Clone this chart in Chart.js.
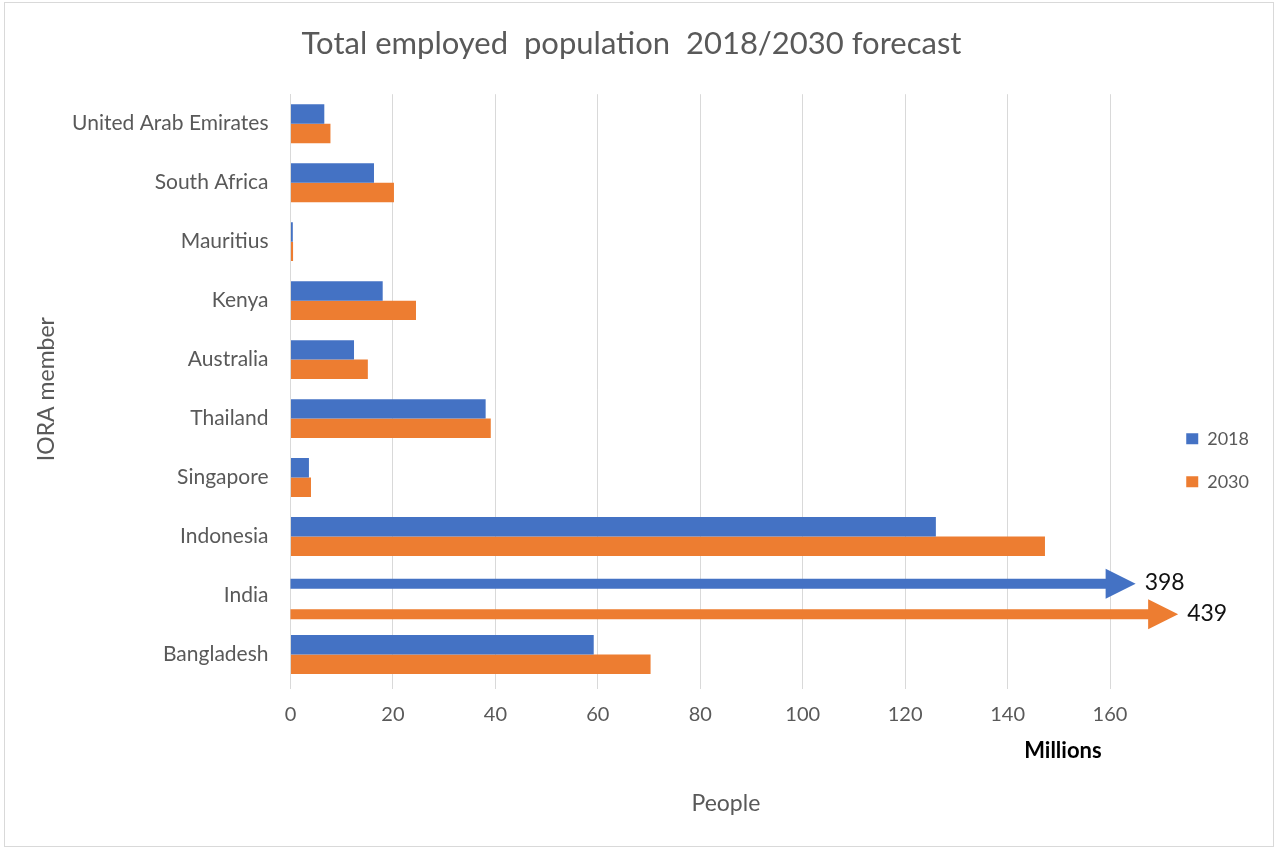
<!DOCTYPE html>
<html>
<head>
<meta charset="utf-8">
<script src="https://cdn.jsdelivr.net/npm/chart.js@4.4.1/dist/chart.umd.min.js"></script>
<style>
  html, body { margin: 0; padding: 0; background: #fff; }
  #wrap { width: 1278px; height: 850px; position: relative; }
</style>
</head>
<body>
<div id="wrap"><canvas id="chart" width="1278" height="850"></canvas></div>
<script>
// data (millions of people), top to bottom as in the picture
const members = ['United Arab Emirates','South Africa','Mauritius','Kenya','Australia','Thailand','Singapore','Indonesia','India','Bangladesh'];
const emp2018 = [6.6, 16.3, 0.45, 18.0, 12.4, 38.1, 3.6, 126.0, 398, 59.2];
const emp2030 = [7.8, 20.2, 0.5, 24.5, 15.1, 39.1, 4.0, 147.3, 439, 70.3];
const seriesNames = ['2018', '2030'];
const xTicks = [0, 20, 40, 60, 80, 100, 120, 140, 160];
const offScale = 'India'; // too big for the axis, drawn as arrows

const FONT = 'Lato, "Open Sans", sans-serif';
const GREY = '#595959';
const BLUE = '#4472C4';
const ORANGE = '#ED7D31';

const iOff = members.indexOf(offScale);
const onAxis = arr => arr.map((v, i) => i === iOff ? null : v);

// arrows for the off-scale category + extra labels
const arrowPlugin = {
  id: 'arrows',
  beforeDraw(chart) {
    const c = chart.ctx;
    c.save();
    c.fillStyle = '#fff';
    c.fillRect(0, 0, chart.width, chart.height);
    c.strokeStyle = '#d9d9d9';
    c.lineWidth = 1;
    c.strokeRect(4.5, 2.5, chart.width - 9, chart.height - 6);
    c.restore();
  },
  afterDatasetsDraw(chart, args, opts) {
    const c = chart.ctx;
    const x = chart.scales.x;
    const raw = [emp2018, emp2030];
    c.save();
    chart.data.datasets.forEach((ds, d) => {
      const el = chart.getDatasetMeta(d).data[iOff];
      const y = el.y + opts.shift[d];
      const x0 = x.getPixelForValue(0);
      const tip = x.getPixelForValue(opts.tip[d]);
      const head = 30, half = 15, shaft = 5;
      c.fillStyle = ds.backgroundColor;
      c.beginPath();
      c.moveTo(x0, y - shaft);
      c.lineTo(tip - head, y - shaft);
      c.lineTo(tip - head, y - half);
      c.lineTo(tip, y);
      c.lineTo(tip - head, y + half);
      c.lineTo(tip - head, y + shaft);
      c.lineTo(x0, y + shaft);
      c.closePath();
      c.fill();
      c.fillStyle = '#111';
      c.font = '23px ' + FONT;
      c.textAlign = 'left';
      c.textBaseline = 'middle';
      c.fillText(String(raw[d][iOff]), tip + 9, y - 1);
    });
    c.font = 'bold 22px ' + FONT;
    c.fillStyle = '#000';
    c.textAlign = 'center';
    c.fillText('Millions', x.getPixelForValue(150.8), 751);
    c.restore();
  }
};

new Chart(document.getElementById('chart'), {
  type: 'bar',
  data: {
    labels: members,
    datasets: [
      { label: seriesNames[0], data: onAxis(emp2018), backgroundColor: BLUE },
      { label: seriesNames[1], data: onAxis(emp2030), backgroundColor: ORANGE }
    ]
  },
  options: {
    indexAxis: 'y',
    responsive: false,
    animation: false,
    layout: { padding: { left: 4, right: 19, top: 0, bottom: 0 } },
    datasets: { bar: { categoryPercentage: 0.66, barPercentage: 1.0 } },
    scales: {
      x: {
        min: 0, max: 170,
        afterBuildTicks: s => { s.ticks = xTicks.map(v => ({ value: v })); },
        afterFit: s => { s.height = 166; },
        grid: { color: '#d9d9d9', tickLength: 5 },
        border: { display: false },
        ticks: { color: GREY, font: { family: FONT, size: 20 }, padding: 14 },
        title: { display: true, text: 'People', color: GREY, font: { family: FONT, size: 23 }, padding: { top: 60, bottom: 33 } }
      },
      y: {
        afterFit: s => { s.width = 286.5; },
        grid: { display: false, drawTicks: false },
        border: { display: true, color: '#d9d9d9' },
        ticks: { color: GREY, font: { family: FONT, size: 21 }, padding: 22 },
        title: { display: true, text: 'IORA member', color: GREY, font: { family: FONT, size: 23 }, padding: { top: 29, bottom: 0 } }
      }
    },
    plugins: {
      title: {
        display: true,
        text: 'Total employed  population  2018/2030 forecast',
        color: GREY,
        font: { family: FONT, size: 31, weight: 'normal' },
        padding: { top: 25, bottom: 32 }
      },
      legend: {
        position: 'right',
        title: { display: true, text: '', font: { size: 12 }, padding: { top: 56, bottom: 0 } },
        labels: { color: GREY, font: { family: FONT, size: 18 }, boxWidth: 12, boxHeight: 11, padding: 25 }
      },
      tooltip: { enabled: false },
      arrows: { tip: [165, 173.3], shift: [-2, 9] }
    }
  },
  plugins: [arrowPlugin]
});
</script>
</body>
</html>
